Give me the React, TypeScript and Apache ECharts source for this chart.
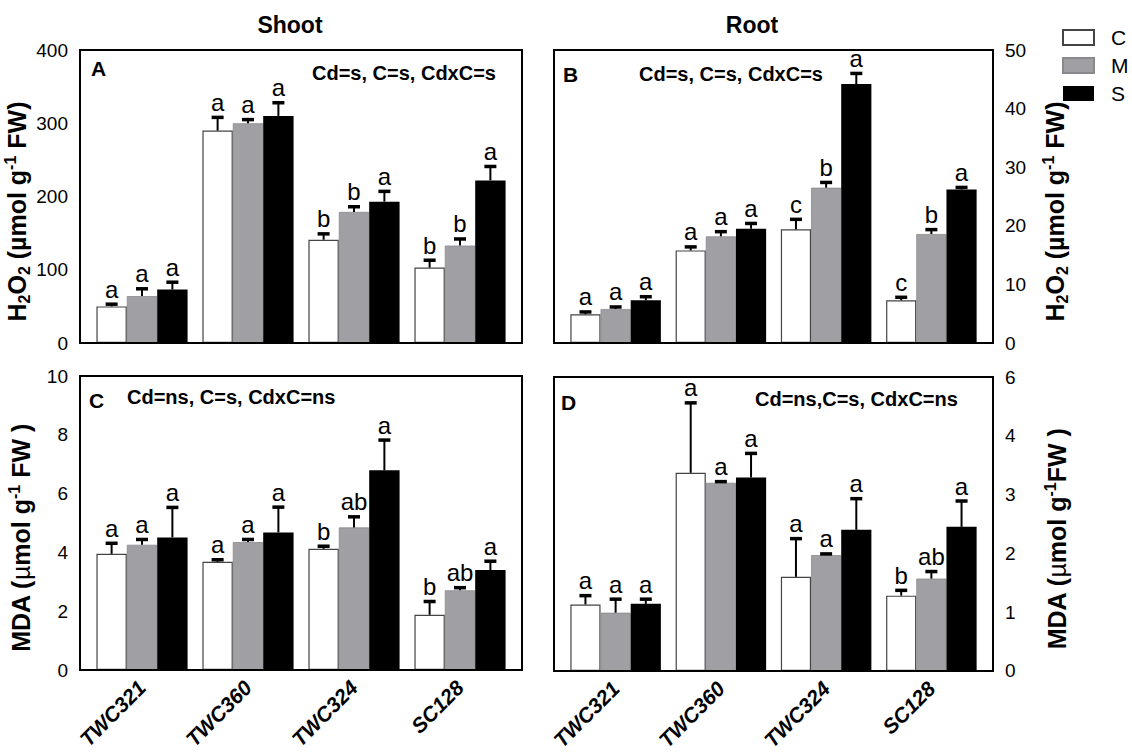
import React, { useEffect, useRef } from 'react';
import * as echarts from 'echarts';

// ---------- DATA ----------
const cultivars = ['TWC321', 'TWC360', 'TWC324', 'SC128'];
const treatments = ['C', 'M', 'S'];

// Panel A: Shoot H2O2 (µmol g-1 FW)
const shootH2O2_C = [50, 290, 141, 103];
const shootH2O2_M = [64, 300, 179, 133];
const shootH2O2_S = [73, 310, 193, 222];
const shootH2O2_errC = [3, 18, 8, 10];
const shootH2O2_errM = [10, 5, 7, 9];
const shootH2O2_errS = [10, 18, 14, 19];
const shootH2O2_letC = ['a', 'a', 'b', 'b'];
const shootH2O2_letM = ['a', 'a', 'b', 'b'];
const shootH2O2_letS = ['a', 'a', 'a', 'a'];

// Panel B: Root H2O2
const rootH2O2_C = [4.9, 15.8, 19.4, 7.3];
const rootH2O2_M = [5.8, 18.2, 26.5, 18.6];
const rootH2O2_S = [7.3, 19.5, 44.2, 26.2];
const rootH2O2_errC = [0.4, 0.6, 1.7, 0.5];
const rootH2O2_errM = [0.35, 0.8, 0.9, 0.75];
const rootH2O2_errS = [0.6, 0.9, 1.8, 0.35];
const rootH2O2_letC = ['a', 'a', 'c', 'c'];
const rootH2O2_letM = ['a', 'a', 'b', 'b'];
const rootH2O2_letS = ['a', 'a', 'a', 'a'];

// Panel C: Shoot MDA
const shootMDA_C = [3.95, 3.68, 4.12, 1.88];
const shootMDA_M = [4.26, 4.35, 4.85, 2.71];
const shootMDA_S = [4.51, 4.68, 6.79, 3.4];
const shootMDA_errC = [0.36, 0.07, 0.09, 0.45];
const shootMDA_errM = [0.18, 0.09, 0.36, 0.09];
const shootMDA_errS = [1.02, 0.86, 1.03, 0.3];
const shootMDA_letC = ['a', 'a', 'b', 'b'];
const shootMDA_letM = ['a', 'a', 'ab', 'ab'];
const shootMDA_letS = ['a', 'a', 'a', 'a'];

// Panel D: Root MDA
const rootMDA_C = [1.13, 3.37, 1.6, 1.28];
const rootMDA_M = [0.99, 3.2, 1.97, 1.57];
const rootMDA_S = [1.14, 3.29, 2.4, 2.45];
const rootMDA_errC = [0.15, 1.19, 0.65, 0.09];
const rootMDA_errM = [0.23, 0.02, 0.02, 0.12];
const rootMDA_errS = [0.08, 0.41, 0.53, 0.44];
const rootMDA_letC = ['a', 'a', 'a', 'b'];
const rootMDA_letM = ['a', 'a', 'a', 'ab'];
const rootMDA_letS = ['a', 'a', 'a', 'a'];

// axis ticks
const axisA = { min: 0, max: 400, interval: 100 };
const axisB = { min: 0, max: 50, interval: 10 };
const axisC = { min: 0, max: 10, interval: 2 };
const axisD = { min: 0, max: 5, interval: 1 };
const axisDLabels: Record<number, string> = { 0: '0', 1: '1', 2: '2', 3: '3', 4: '4', 5: '6' };

const panelLetters = ['A', 'B', 'C', 'D'];
const statsTexts = ['Cd=s, C=s, CdxC=s', 'Cd=s, C=s, CdxC=s', 'Cd=ns, C=s, CdxC=ns', 'Cd=ns,C=s, CdxC=ns'];
const columnTitles = ['Shoot', 'Root'];

// ---------- LAYOUT / STYLE ----------
const FONT = '"Liberation Sans", Arial, Helvetica, sans-serif';
const NARROW = '"Liberation Sans Narrow", "Liberation Sans", Arial, sans-serif';
const GAP = 0.14;
const INSET = 9;

const frames = [
  { left: 80, top: 50, width: 442, height: 293 },
  { left: 554, top: 50, width: 439, height: 293 },
  { left: 80, top: 376, width: 442, height: 294 },
  { left: 554, top: 377, width: 439, height: 294 },
];

const fills = ['#ffffff', '#a0a0a4', '#000000'];
const borders = ['#444444', '#8a8a8e', '#000000'];

const richName = {
  b: { fontSize: 25, fontWeight: 'bold', lineHeight: 30, fontFamily: FONT, color: '#000' },
  m: { fontSize: 25, fontWeight: 'normal', lineHeight: 30, fontFamily: FONT, color: '#000' },
  s: { fontSize: 16, fontWeight: 'bold', lineHeight: 16, verticalAlign: 'bottom', fontFamily: FONT, color: '#000' },
  p: { fontSize: 16, fontWeight: 'bold', lineHeight: 16, verticalAlign: 'top', fontFamily: FONT, color: '#000' },
};

const h2o2Name = '{b|H}{s|2}{b|O}{s|2}{b| (µmol g}{p|-1}{b| FW)}';
const mdaNameC = '{b|MDA (}{m|µ}{b|mol g}{p|-1}{b| FW )}';
const mdaNameD = '{b|MDA (}{m|µ}{b|mol g}{p|-1}{b|FW )}';

export default function App() {
  const ref = useRef<HTMLDivElement>(null);

  useEffect(() => {
    if (!ref.current) return;
    const chart = echarts.init(ref.current, undefined, { renderer: 'svg' });

    const panels = [
      { means: [shootH2O2_C, shootH2O2_M, shootH2O2_S], errs: [shootH2O2_errC, shootH2O2_errM, shootH2O2_errS], lets: [shootH2O2_letC, shootH2O2_letM, shootH2O2_letS], axis: axisA, side: 'left', name: h2o2Name, showX: false, fmt: null as any, gap: 44 },
      { means: [rootH2O2_C, rootH2O2_M, rootH2O2_S], errs: [rootH2O2_errC, rootH2O2_errM, rootH2O2_errS], lets: [rootH2O2_letC, rootH2O2_letM, rootH2O2_letS], axis: axisB, side: 'right', name: h2o2Name, showX: false, fmt: null as any, gap: 47 },
      { means: [shootMDA_C, shootMDA_M, shootMDA_S], errs: [shootMDA_errC, shootMDA_errM, shootMDA_errS], lets: [shootMDA_letC, shootMDA_letM, shootMDA_letS], axis: axisC, side: 'left', name: mdaNameC, showX: true, fmt: null as any, gap: 44 },
      { means: [rootMDA_C, rootMDA_M, rootMDA_S], errs: [rootMDA_errC, rootMDA_errM, rootMDA_errS], lets: [rootMDA_letC, rootMDA_letM, rootMDA_letS], axis: axisD, side: 'right', name: mdaNameD, showX: true, fmt: (v: number) => axisDLabels[v] ?? String(v), gap: 49 },
    ];

    const grid: any[] = [];
    const xAxis: any[] = [];
    const yAxis: any[] = [];
    const series: any[] = [];

    panels.forEach((p, i) => {
      const f = frames[i];
      grid.push({ left: f.left + INSET, top: f.top, width: f.width - 2 * INSET, height: f.height });
      xAxis.push({
        type: 'category', gridIndex: i, data: cultivars,
        axisLine: { show: false }, axisTick: { show: false }, splitLine: { show: false },
        axisLabel: {
          show: p.showX, interval: 0, rotate: 45, margin: 14, color: '#000',
          fontSize: 21, fontWeight: 'bold', fontStyle: 'italic', fontFamily: FONT,
        },
      });
      yAxis.push({
        type: 'value', gridIndex: i, position: p.side, offset: INSET,
        min: p.axis.min, max: p.axis.max, interval: p.axis.interval,
        axisLine: { show: false }, axisTick: { show: false }, splitLine: { show: false },
        axisLabel: { color: '#000', fontSize: 19, fontFamily: NARROW, margin: 12, formatter: p.fmt || undefined },
        name: p.name, nameLocation: 'middle', nameRotate: 90, nameGap: p.gap,
        nameTextStyle: { rich: richName, padding: [0, 30, 0, 0] },
      });
      treatments.forEach((t, s) => {
        series.push({
          type: 'bar', name: t, xAxisIndex: i, yAxisIndex: i, data: p.means[s],
          barGap: '0%', barCategoryGap: GAP * 100 + '%',
          itemStyle: { color: fills[s], borderColor: borders[s], borderWidth: s === 0 ? 1.2 : (s === 1 ? 0.8 : 0) },
          emphasis: { disabled: true },
        });
      });
      const errData: any[] = [];
      const lets: string[] = [];
      treatments.forEach((_, s) => {
        cultivars.forEach((_, c) => {
          errData.push([c, p.means[s][c], p.means[s][c] + p.errs[s][c], s]);
          lets.push(p.lets[s][c]);
        });
      });
      series.push({
        type: 'custom', xAxisIndex: i, yAxisIndex: i, data: errData, z: 5,
        renderItem: (params: any, api: any) => {
          const c = api.value(0);
          const band = api.size([1, 0])[0];
          const barW = (band * (1 - GAP)) / 3;
          const cx = api.coord([c, 0])[0] + (api.value(3) - 1) * barW;
          const yM = api.coord([c, api.value(1)])[1];
          const yT = api.coord([c, api.value(2)])[1];
          return {
            type: 'group',
            children: [
              { type: 'line', shape: { x1: cx, y1: yM, x2: cx, y2: yT }, style: { stroke: '#000', lineWidth: 2 } },
              { type: 'line', shape: { x1: cx - 6, y1: yT, x2: cx + 6, y2: yT }, style: { stroke: '#000', lineWidth: 3.5 } },
              {
                type: 'text', x: cx, y: yT - 3,
                style: { text: lets[params.dataIndex], fill: '#000', fontSize: 24, fontFamily: FONT, align: 'center', verticalAlign: 'bottom' },
              },
            ],
          };
        },
      });
    });

    // frame grids
    frames.forEach((f, i) => {
      grid.push({ left: f.left, top: f.top, width: f.width, height: f.height, show: true, borderColor: '#000', borderWidth: 2, backgroundColor: 'transparent', z: 3 });
      xAxis.push({ type: 'value', gridIndex: 4 + i, show: false });
      yAxis.push({ type: 'value', gridIndex: 4 + i, show: false });
    });

    const graphic: any[] = [
      { type: 'text', x: 290, y: 25, style: { text: columnTitles[0], font: `bold 23px ${FONT}`, fill: '#000', align: 'center', verticalAlign: 'middle' } },
      { type: 'text', x: 752, y: 25, style: { text: columnTitles[1], font: `bold 23px ${FONT}`, fill: '#000', align: 'center', verticalAlign: 'middle' } },
      { type: 'text', x: 91, y: 68, style: { text: panelLetters[0], font: `bold 21px ${FONT}`, fill: '#000', align: 'left', verticalAlign: 'middle' } },
      { type: 'text', x: 563, y: 74, style: { text: panelLetters[1], font: `bold 21px ${FONT}`, fill: '#000', align: 'left', verticalAlign: 'middle' } },
      { type: 'text', x: 89, y: 400, style: { text: panelLetters[2], font: `bold 21px ${FONT}`, fill: '#000', align: 'left', verticalAlign: 'middle' } },
      { type: 'text', x: 561, y: 402, style: { text: panelLetters[3], font: `bold 21px ${FONT}`, fill: '#000', align: 'left', verticalAlign: 'middle' } },
      { type: 'text', x: 312, y: 73, style: { text: statsTexts[0], font: `bold 20px ${FONT}`, fill: '#000', align: 'left', verticalAlign: 'middle' } },
      { type: 'text', x: 639, y: 74, style: { text: statsTexts[1], font: `bold 20px ${FONT}`, fill: '#000', align: 'left', verticalAlign: 'middle' } },
      { type: 'text', x: 127, y: 397, style: { text: statsTexts[2], font: `bold 20px ${FONT}`, fill: '#000', align: 'left', verticalAlign: 'middle' } },
      { type: 'text', x: 755, y: 399, style: { text: statsTexts[3], font: `bold 20px ${FONT}`, fill: '#000', align: 'left', verticalAlign: 'middle' } },
    ];

    chart.setOption({
      animation: false,
      backgroundColor: '#fff',
      textStyle: { fontFamily: FONT },
      grid, xAxis, yAxis, series, graphic,
      legend: {
        data: treatments, orient: 'vertical', left: 1062, top: 27, padding: 0,
        itemWidth: 31, itemHeight: 15, itemGap: 7, icon: 'rect',
        selectedMode: false,
        textStyle: { fontSize: 21, color: '#000', lineHeight: 16, fontFamily: FONT, padding: [0, 0, 0, 12] },
      },
    });

    return () => chart.dispose();
  }, []);

  return <div ref={ref} style={{ position: 'absolute', left: 0, top: 0, width: 1132, height: 753 }} />;
}
